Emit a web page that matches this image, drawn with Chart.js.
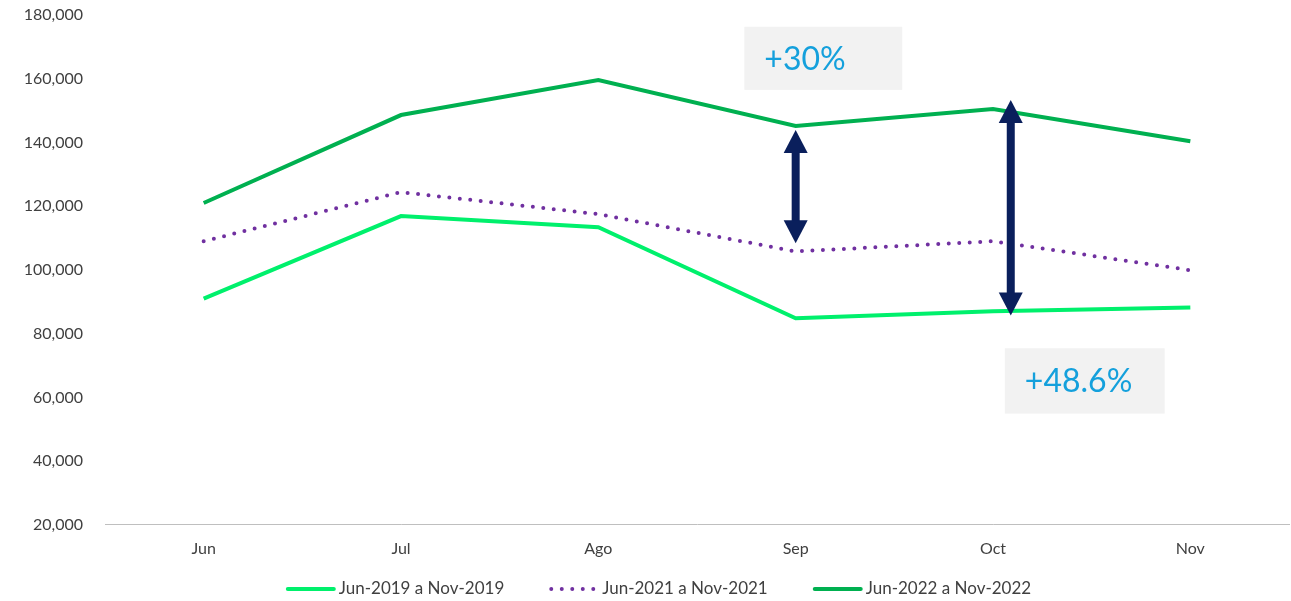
<!DOCTYPE html>
<html>
<head>
<meta charset="utf-8">
<script src="https://cdn.jsdelivr.net/npm/chart.js@4/dist/chart.umd.min.js"></script>
<style>
html,body{margin:0;padding:0;background:#fff;}
#wrap{width:1291px;height:601px;}
</style>
</head>
<body>
<div id="wrap"><canvas id="chart"></canvas></div>
<script>
// categories and series
const meses = ['Jun','Jul','Ago','Sep','Oct','Nov'];
const serie2019 = [91000, 116900, 113400, 84800, 87000, 88200];
const serie2021 = [109000, 124400, 117500, 105800, 109000, 99900];
const serie2022 = [121000, 148600, 159600, 145200, 150500, 140400];
const nombres = ['Jun-2019 a Nov-2019','Jun-2021 a Nov-2021','Jun-2022 a Nov-2022'];

// annotations (category index / value anchors)
const flechas = [
  {x: 3, desde: 143900, hasta: 108400},
  {x: 4.09, desde: 153300, hasta: 85700}
];
const cajas = [
  {texto: '+30%', x0: 2.74, x1: 3.54, y0: 176300, y1: 156500},
  {texto: '+48.6%', x0: 4.06, x1: 4.87, y0: 75400, y1: 54900}
];

const fuente = 'Lato, "Open Sans", sans-serif';
const gris = '#404040';

const anotaciones = {
  id: 'anotaciones',
  afterDatasetsDraw(chart){
    const ctx = chart.ctx;
    const xs = chart.scales.x, ys = chart.scales.y;
    ctx.save();
    // boxes
    cajas.forEach(c=>{
      const l = xs.getPixelForValue(c.x0), r = xs.getPixelForValue(c.x1);
      const t = ys.getPixelForValue(c.y0), b = ys.getPixelForValue(c.y1);
      ctx.fillStyle = '#f2f2f2';
      ctx.fillRect(l, t, r-l, b-t);
      ctx.fillStyle = '#14a0dc';
      ctx.font = '32px ' + fuente;
      ctx.textBaseline = 'middle';
      ctx.textAlign = 'left';
      ctx.fillText(c.texto, l + 20, (t+b)/2 + 1);
    });
    // double arrows
    ctx.fillStyle = '#0a1f5c';
    ctx.strokeStyle = '#0a1f5c';
    flechas.forEach(f=>{
      const x = xs.getPixelForValue(f.x);
      const top = ys.getPixelForValue(f.desde), bot = ys.getPixelForValue(f.hasta);
      const hw = 12, hh = 23;
      ctx.lineWidth = 8;
      ctx.beginPath();
      ctx.moveTo(x, top + hh - 2);
      ctx.lineTo(x, bot - hh + 2);
      ctx.stroke();
      ctx.beginPath();
      ctx.moveTo(x, top); ctx.lineTo(x - hw, top + hh); ctx.lineTo(x + hw, top + hh); ctx.closePath();
      ctx.fill();
      ctx.beginPath();
      ctx.moveTo(x, bot); ctx.lineTo(x - hw, bot - hh); ctx.lineTo(x + hw, bot - hh); ctx.closePath();
      ctx.fill();
    });
    ctx.restore();
  },
  // legend drawn by hand so the line samples keep their dash style
  afterDraw(chart){
    const ctx = chart.ctx;
    const sets = chart.data.datasets;
    const muestra = 50, hueco = 3, sep = 45;
    const y = 589;
    ctx.save();
    ctx.font = '17px ' + fuente;
    const anchos = sets.map(d => ctx.measureText(d.label).width);
    let total = 0;
    anchos.forEach((w,i) => { total += muestra + hueco + w + (i ? sep : 0); });
    let x = (chart.width - total) / 2 + 13;
    sets.forEach((d,i)=>{
      ctx.strokeStyle = d.borderColor;
      ctx.lineWidth = d.borderWidth;
      ctx.lineCap = 'round';
      ctx.setLineDash(d.borderDash || []);
      ctx.beginPath();
      ctx.moveTo(x + 2, y);
      ctx.lineTo(x + muestra - 2, y);
      ctx.stroke();
      ctx.setLineDash([]);
      ctx.fillStyle = gris;
      ctx.textBaseline = 'middle';
      ctx.textAlign = 'left';
      ctx.fillText(d.label, x + muestra + hueco, y);
      x += muestra + hueco + anchos[i] + sep;
    });
    ctx.restore();
  }
};

new Chart(document.getElementById('chart'), {
  type: 'line',
  data: {
    labels: meses,
    datasets: [{
      label: nombres[0],
      data: serie2019,
      borderColor: '#00f06c',
      backgroundColor: '#00f06c',
      borderWidth: 4,
      pointRadius: 0,
      tension: 0
    },{
      label: nombres[1],
      data: serie2021,
      borderColor: '#7030a0',
      backgroundColor: '#7030a0',
      borderWidth: 4,
      borderDash: [0, 10.5],
      borderCapStyle: 'round',
      pointRadius: 0,
      tension: 0
    },{
      label: nombres[2],
      data: serie2022,
      borderColor: '#00b050',
      backgroundColor: '#00b050',
      borderWidth: 4,
      pointRadius: 0,
      tension: 0
    }]
  },
  options: {
    responsive: true,
    maintainAspectRatio: false,
    animation: false,
    layout: {padding: {top: 15, right: 2, left: 0, bottom: 29}},
    scales: {
      x: {
        offset: true,
        grid: {display: false, drawTicks: false},
        border: {display: true, color: '#bfbfbf', width: 1},
        ticks: {color: gris, font: {family: fuente, size: 16}, padding: 14}
      },
      y: {
        min: 20000,
        max: 180000,
        afterFit(scale){
          scale.width = 105;
          scale.paddingTop = 0;
          scale.paddingBottom = 0;
        },
        grid: {display: false, drawTicks: false},
        border: {display: false},
        ticks: {
          stepSize: 20000,
          color: gris,
          font: {family: fuente, size: 16},
          padding: 22,
          callback: v => v.toLocaleString('en-US')
        }
      }
    },
    plugins: {
      legend: {display: false},
      tooltip: {enabled: false}
    }
  },
  plugins: [anotaciones]
});
</script>
</body>
</html>
